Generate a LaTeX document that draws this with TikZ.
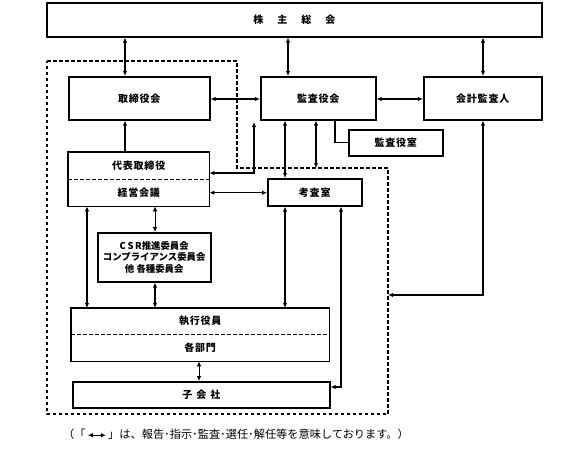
\documentclass[tikz,border=0pt]{standalone}
\usepackage{fontspec}
\setmainfont{Noto Sans CJK JP}
\newfontfamily\labfont[LetterSpace=8]{Noto Sans CJK JP}
\usetikzlibrary{arrows.meta}
\tikzset{
  box/.style={draw, line width=1.5pt, inner sep=0pt, font=\labfont\bfseries\fontsize{10}{11}\selectfont},
  part/.style={inner sep=0pt, font=\labfont\bfseries\fontsize{10}{11}\selectfont},
  frame/.style={line width=1.5pt},
  divider/.style={line width=1.1pt, dash pattern=on 3.5pt off 2.5pt},
  grp/.style={line width=1.1pt, dash pattern=on 3.5pt off 2.5pt},
  tip/.tip={Latex[length=5pt,width=4.5pt]},
  arr/.style={line width=1.1pt, tip-tip},
  arrthin/.style={line width=0.8pt, tip-tip},
  arrone/.style={line width=1.1pt, -tip},
  link/.style={line width=1.1pt},
}
\begin{document}
\begin{tikzpicture}[x=1pt, y=-1pt]
\useasboundingbox (0,0) rectangle (574,448);
% group
\draw[grp] (47,61) -- (237,61) -- (237,168) -- (388,168) -- (388,414) -- (47,414) -- cycle;
\coordinate (grpTop) at (316,168);
\coordinate (grpRight) at (388,295);
\coordinate (kTip) at (254,122);
% boxes
\node[box, minimum width=495, minimum height=34, anchor=north west] (soukai) at (46,2) {株\hspace{14pt}主\hspace{14pt}総\hspace{14pt}会};
\node[box, minimum width=141, minimum height=43, anchor=north west] (torishimari) at (68,76) {取締役会};
\node[box, minimum width=115, minimum height=43, anchor=north west] (kansayaku) at (260,76) {監査役会};
\node[box, minimum width=118, minimum height=43, anchor=north west] (kaikei) at (423,76) {会計監査人};
\node[box, minimum width=94, minimum height=26, anchor=north west] (kansashitsu) at (348,129) {監査役室};
\node[part, minimum width=141, minimum height=27, anchor=north west] (daihyo) at (68,152) {代表取締役};
\node[part, minimum width=141, minimum height=27, anchor=north west] (keiei) at (68,179) {経営会議};
\draw[frame] (daihyo.north west) rectangle (keiei.south east);
\draw[divider] (daihyo.south west) -- (daihyo.south east);
\node[box, minimum width=94, minimum height=27, anchor=north west] (kousa) at (267,178) {考査室};
\node[box, minimum width=113, minimum height=49, anchor=north west, align=center,
      font=\bfseries\fontsize{9.4}{11.6}\selectfont] (iinkai) at (97,232) {C\,S\,R推進委員会\\コンプライアンス委員会\\他 各種委員会};
\node[part, minimum width=258, minimum height=26, anchor=north west] (shikkou) at (71,308) {執行役員};
\node[part, minimum width=258, minimum height=27, anchor=north west] (bumon) at (71,334) {各部門};
\draw[frame] (shikkou.north west) rectangle (bumon.south east);
\draw[divider] (shikkou.south west) -- (shikkou.south east);
\node[box, minimum width=257, minimum height=26, anchor=north west] (kogaisha) at (72,381) {子\hspace{4pt}会\hspace{4pt}社};
% connectors
\draw[arr] (soukai.south -| 125,0) -- (torishimari.north -| 125,0);
\draw[arr] (soukai.south -| 288,0) -- (kansayaku.north -| 288,0);
\draw[arr] (soukai.south -| 483,0) -- (kaikei.north -| 483,0);
\draw[arr] (torishimari.east |- 0,99) -- (kansayaku.west |- 0,99);
\draw[arr] (kansayaku.east |- 0,99) -- (kaikei.west |- 0,99);
\draw[arrone] (daihyo.north -| 125,0) -- (torishimari.south -| 125,0);
\draw[arr] (kTip) |- (daihyo.east |- 0,173);
\draw[arr] (kansayaku.south -| 285,0) -- (kousa.north -| 285,0);
\draw[arr] (kansayaku.south -| 316,0) -- (grpTop);
\draw[link] (kansayaku.south -| 335,0) |- (kansashitsu.west);
\draw[arr] (keiei.east) -- (kousa.west |- keiei.east);
\draw[arrthin] (keiei.south -| 155,0) -- (iinkai.north -| 155,0);
\draw[arr] (iinkai.south -| 155,0) -- (shikkou.north -| 155,0);
\draw[arr] (keiei.south -| 87,0) -- (shikkou.north -| 87,0);
\draw[arr] (kousa.south -| 285,0) -- (shikkou.north -| 285,0);
\draw[arr] (kousa.south -| 341,0) |- (kogaisha.east |- 0,387);
\draw[arr] (kaikei.south -| 483,0) |- (grpRight);
\draw[arrthin] (bumon.south -| 199,0) -- (kogaisha.north -| 199,0);
% note
\node[anchor=west, inner sep=0pt, font=\fontsize{11.2}{13}\selectfont] (note) at (63,434)
  {（「\,\tikz[baseline=-0.5ex]\draw[line width=0.9pt, tip-tip] (0pt,0pt) -- (18pt,0pt);\,」は、報告･指示･監査･選任･解任等を意味しております。）};
\end{tikzpicture}
\end{document}
